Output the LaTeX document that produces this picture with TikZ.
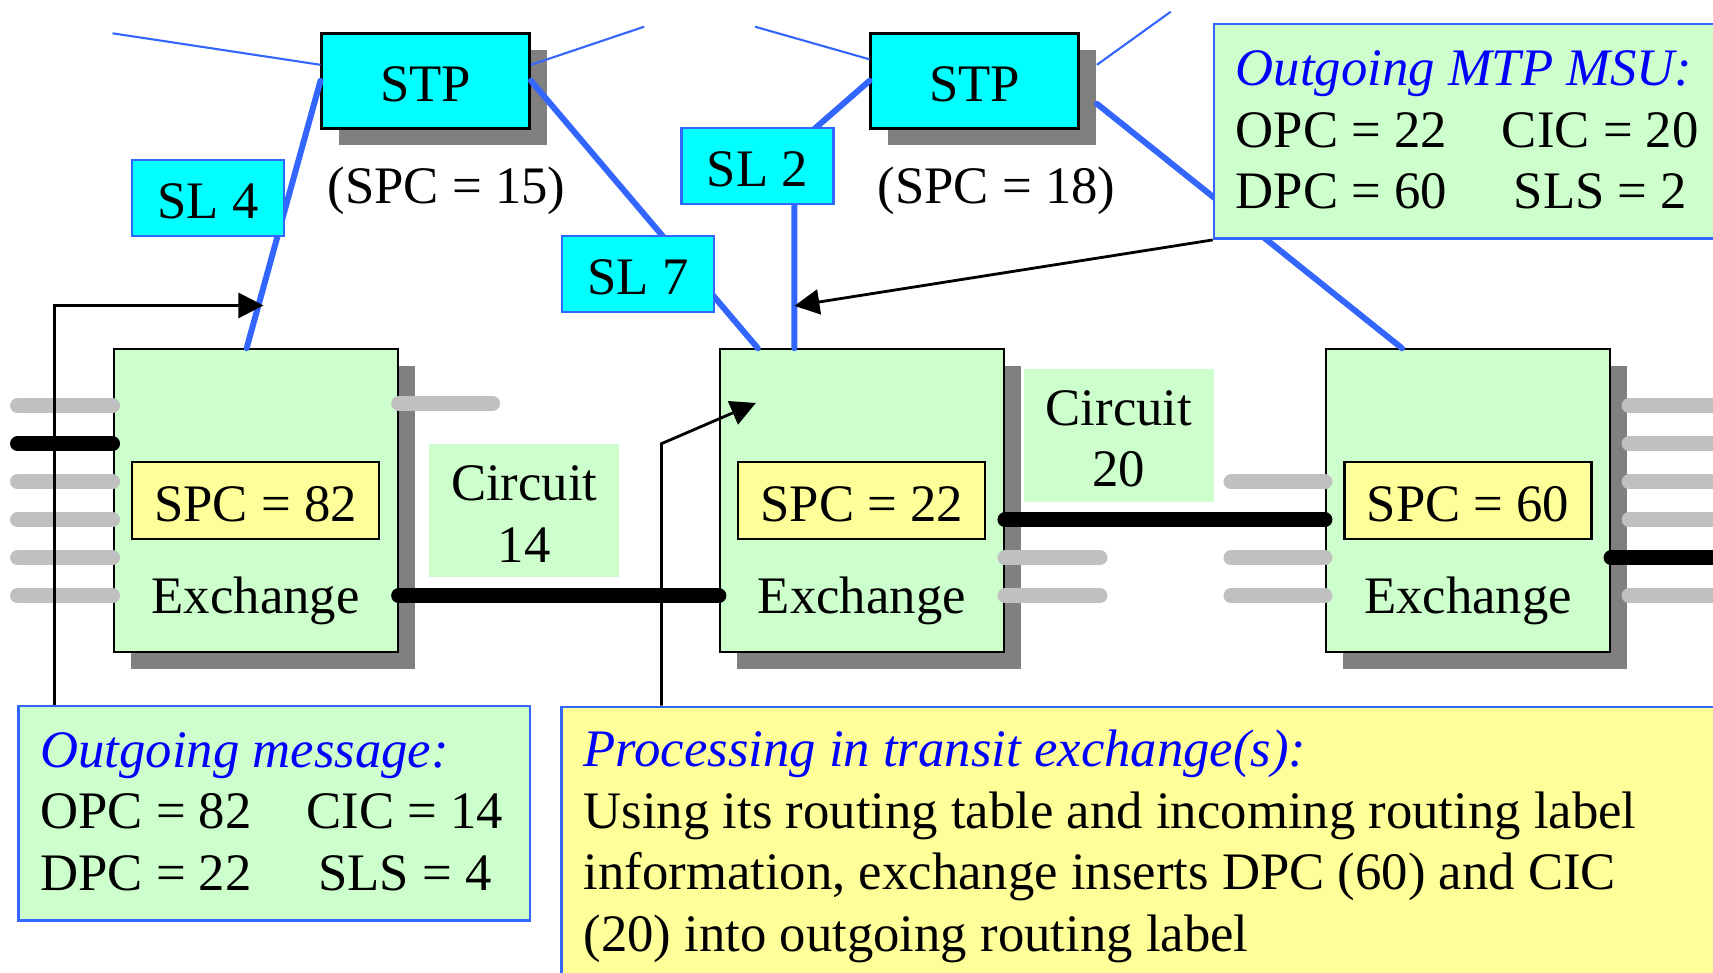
\documentclass[tikz,border=0pt]{standalone}
\usepackage{fontspec}
\setmainfont{Liberation Serif}
\usetikzlibrary{shadows,arrows.meta}

\definecolor{stpcyan}{RGB}{0,255,255}
\definecolor{exgreen}{RGB}{204,255,204}
\definecolor{spcyellow}{RGB}{255,255,153}
\definecolor{linkblue}{RGB}{51,102,255}
\definecolor{titleblue}{RGB}{0,0,255}
\definecolor{stubgray}{RGB}{192,192,192}
\definecolor{shadowgray}{RGB}{128,128,128}

\newcommand{\msgtitle}[1]{{\color{titleblue}\itshape #1}}

\tikzset{
  boxshadow/.style={drop shadow={shadow xshift=.17cm, shadow yshift=-.17cm, fill=shadowgray, opacity=1}},
  stpbox/.style={draw=black, line width=0.7pt, fill=stpcyan, minimum width=2.08cm, minimum height=0.95cm, text height=11.8pt, text depth=0pt, boxshadow},
  slbox/.style={draw=linkblue, line width=0.6pt, fill=stpcyan, minimum width=1.52cm, minimum height=0.76cm, text height=11.8pt, text depth=0pt},
  exbox/.style={draw=black, line width=0.6pt, fill=exgreen, minimum width=2.84cm, minimum height=3.03cm, boxshadow},
  spcbox/.style={draw=black, line width=0.6pt, fill=spcyellow, minimum width=2.47cm, minimum height=0.77cm, text height=11.8pt, text depth=0pt},
  circbox/.style={fill=exgreen, align=center, minimum width=1.9cm, minimum height=1.33cm},
  infobox/.style={draw=linkblue, line width=0.7pt, fill=exgreen, align=left},
  sllink/.style={linkblue, line width=1.7pt, line cap=round},
  thinlink/.style={linkblue, line width=0.6pt},
  stub/.style={stubgray, line width=0.15cm, line cap=round},
  trunk/.style={black, line width=0.15cm, line cap=round},
  msgarrow/.style={black, line width=0.8pt, -{Triangle[length=0.25cm,width=0.25cm]}},
}

\begin{document}
\begin{tikzpicture}[font=\fontsize{15}{17.5}\selectfont]
    \clip (0,0) rectangle (17.13,9.72);

    % 交换机
    \node[exbox] (ex1) at (2.556,4.712) {};
    \node[exbox] (ex2) at (8.619,4.712) {};
    \node[exbox] (ex3) at (14.68,4.712) {};

    % 电路
    \draw[stub] ([yshift=.95cm]ex1.west) -- ++(-0.95,0);
    \draw[trunk] ([yshift=.57cm]ex1.west) -- ++(-0.95,0);
    \draw[stub] ([yshift=.19cm]ex1.west) -- ++(-0.95,0);
    \draw[stub] ([yshift=-.19cm]ex1.west) -- ++(-0.95,0);
    \draw[stub] ([yshift=-.57cm]ex1.west) -- ++(-0.95,0);
    \draw[stub] ([yshift=-.95cm]ex1.west) -- ++(-0.95,0);
    \draw[stub] ([yshift=.975cm]ex1.east) -- ++(0.94,0);
    \draw[trunk] ([yshift=-.95cm]ex1.east) -- ([yshift=-.95cm]ex2.west);

    \draw[trunk] ([yshift=-.19cm]ex2.east) -- ([yshift=-.19cm]ex3.west);
    \draw[stub] ([yshift=-.57cm]ex2.east) -- ++(0.95,0);
    \draw[stub] ([yshift=-.95cm]ex2.east) -- ++(0.95,0);
    \draw[stub] ([yshift=.19cm]ex3.west) -- ++(-0.94,0);
    \draw[stub] ([yshift=-.57cm]ex3.west) -- ++(-0.94,0);
    \draw[stub] ([yshift=-.95cm]ex3.west) -- ++(-0.94,0);

    \draw[stub] ([xshift=.18cm,yshift=.95cm]ex3.east) -- ++(1.5,0);
    \draw[stub] ([xshift=.18cm,yshift=.57cm]ex3.east) -- ++(1.5,0);
    \draw[stub] ([xshift=.18cm,yshift=.19cm]ex3.east) -- ++(1.5,0);
    \draw[stub] ([xshift=.18cm,yshift=-.19cm]ex3.east) -- ++(1.5,0);
    \draw[trunk] ([yshift=-.57cm]ex3.east) -- ++(1.7,0);
    \draw[stub] ([xshift=.18cm,yshift=-.95cm]ex3.east) -- ++(1.5,0);

    \node[spcbox] (spc1) at (ex1) {SPC = 82};
    \node[spcbox] (spc2) at (ex2) {SPC = 22};
    \node[spcbox] (spc3) at (ex3) {SPC = 60};
    \node (ex1lbl) at ([yshift=-1cm]ex1.center) {Exchange};
    \node (ex2lbl) at ([yshift=-1cm]ex2.center) {Exchange};
    \node (ex3lbl) at ([yshift=-1cm]ex3.center) {Exchange};

    \node[circbox] (c14) at (5.242,4.617) {\rule{0pt}{12pt}Circuit\\14};
    \node[circbox] (c20) at (11.189,5.367) {\rule{0pt}{12pt}Circuit\\20};

    % 信令转接点
    \node[stpbox] (stp1) at (4.257,8.912) {STP};
    \node[stpbox] (stp2) at (9.747,8.912) {STP};
    \node (spc15) at (4.466,7.81) {(SPC = 15)};
    \node (spc18) at (9.966,7.81) {(SPC = 18)};

    \coordinate (farw1) at (1.125,9.387);
    \coordinate (fare1) at (6.442,9.453);
    \coordinate (farw2) at (7.55,9.453);
    \coordinate (fare2) at (11.707,9.603);
    \draw[thinlink] (farw1) -- ([yshift=.16cm]stp1.west);
    \draw[thinlink] ([yshift=.16cm]stp1.east) -- (fare1);
    \draw[thinlink] (farw2) -- ([yshift=.215cm]stp2.west);
    \draw[thinlink] ([xshift=.17cm,yshift=.16cm]stp2.east) -- (fare2);

    \draw[sllink] (stp1.west) -- coordinate[pos=.84] (sl4hit) ([xshift=-.09cm]ex1.north);
    \draw[sllink] (stp1.east) -- ([xshift=.39cm]ex2.north west);
    \coordinate (sl2bend) at (7.944,8.256);
    \draw[sllink] (stp2.west) -- (sl2bend) -- coordinate[pos=.79] (sl2hit) (sl2bend |- ex2.north);
    \draw[sllink] ([xshift=.17cm,yshift=-.23cm]stp2.east) -- ([xshift=-.66cm]ex3.north);

    \node[slbox] (sl4) at (2.08,7.743) {SL 4};
    \node[slbox] (sl7) at (6.38,6.978) {SL 7};
    \node[slbox] (sl2) at (7.575,8.058) {SL 2};

    % 消息
    \node[infobox, anchor=west, text width=5.5cm, inner xsep=.217cm, minimum height=2.08cm] (msu) at (12.127,8.407) {%
        \spaceskip=0pt\relax
        \begin{tabular}{@{}l@{\hspace{.55cm}}c@{}}
            \multicolumn{2}{@{}l@{}}{\rule{0pt}{14.2pt}\msgtitle{Outgoing MTP MSU:}}\\
            OPC = 22 & CIC = 20\\
            DPC = 60 & SLS = 2
        \end{tabular}};
    \node[infobox, text width=4.68cm, inner xsep=.218cm, minimum height=2.08cm] (msg) at (2.743,1.588) {%
        \spaceskip=0pt\relax
        \begin{tabular}{@{}l@{\hspace{.55cm}}c@{}}
            \multicolumn{2}{@{}l@{}}{\rule{0pt}{14.2pt}\msgtitle{Outgoing message:}}\\
            OPC = 82 & CIC = 14\\
            DPC = 22 & SLS = 4
        \end{tabular}};
    \node[infobox, fill=spcyellow, anchor=north west, text width=12cm, inner xsep=.22cm, inner ysep=.23cm] (proc) at (5.604,2.663) {%
        \spaceskip=0pt\relax
        \msgtitle{Processing in transit exchange(s):}\\
        Using its routing table and incoming routing label\\
        information, exchange inserts DPC (60) and CIC\\
        (20) into outgoing routing label};

    \draw[msgarrow] ([xshift=.37cm]msg.north west) |- ([xshift=.05cm]sl4hit);
    \draw[msgarrow] (msu.south west) -- (sl2hit);
    \draw[msgarrow] ([xshift=1.01cm]proc.north west) -- ++(0,2.62) -- ([xshift=.37cm,yshift=-.547cm]ex2.north west);
\end{tikzpicture}
\end{document}
